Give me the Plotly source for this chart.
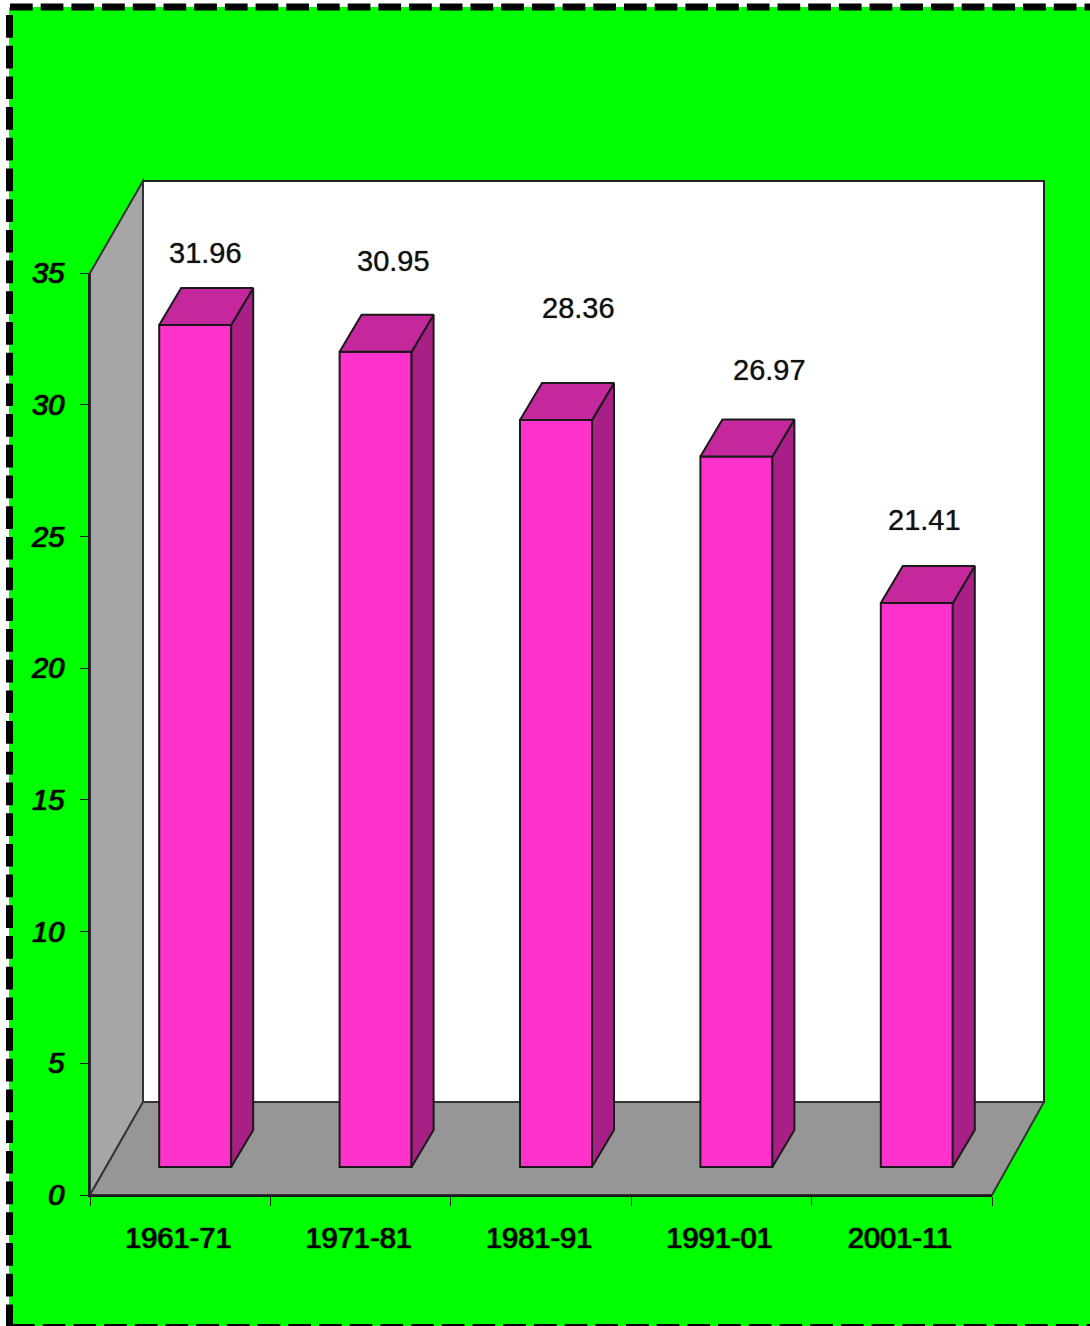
import plotly.graph_objects as go

categories = ["1961-71", "1971-81", "1981-91", "1991-01", "2001-11"]
values = [31.96, 30.95, 28.36, 26.97, 21.41]
y_ticks = [0, 5, 10, 15, 20, 25, 30, 35]
x_boundaries = [-0.5, 0.5, 1.5, 2.5, 3.5, 4.5]
label_dx = [10, 18, 22, 33, 8]
label_dy = [72, 91, 112, 87, 83]

W, H = 1090, 1326
L, R, T, B = 90, 992, 273, 1195
UX = (R - L) / 5
UY = (B - T) / 35
DEPTH_X, DEPTH_Y = 53, 92          # wall / floor depth, px
BAR_FX, BAR_FY = 15 / UX, 28 / UY  # bar front-face shift, data units
BAR_DX, BAR_DY = 22 / UX, 37 / UY  # bar depth, data units
BAR_W = 72 / UX
INK = "#1a1a1a"
px = lambda x: x / W
py = lambda y: 1 - y / H


def poly(pts, color, line_color, width=2):
    return dict(type="path", xref="paper", yref="paper", layer="below",
                path="M" + "L".join(f"{px(x):.5f},{py(y):.5f}" for x, y in pts) + "Z",
                fillcolor=color, line=dict(color=line_color, width=width))


def border(x0, y0, x1, y1):
    return dict(type="line", xref="paper", yref="paper", layer="below",
                x0=px(x0), y0=py(y0), x1=px(x1), y1=py(y1),
                line=dict(color="black", width=7, dash="22.7px,8px"))


shapes = [
    dict(type="rect", xref="paper", yref="paper", layer="below",
         x0=px(9), x1=px(W + 20), y0=py(7), y1=py(H + 5),
         fillcolor="#00FF00", line=dict(width=0)),
    border(10, 7, W + 5, 7),
    border(9.5, 15, 9.5, H + 5),
    border(12, H + 1.5, W + 5, H + 1.5),
    poly([(L + DEPTH_X, T - DEPTH_Y), (R + DEPTH_X - 1, T - DEPTH_Y),
          (R + DEPTH_X - 1, B - DEPTH_Y - 1), (L + DEPTH_X, B - DEPTH_Y - 1)], "white", "#222222"),
    poly([(L, T), (L + DEPTH_X, T - DEPTH_Y), (L + DEPTH_X, B - DEPTH_Y), (L, B)], "#A6A6A6", "#333333"),
    poly([(L, B), (R, B), (R + DEPTH_X - 1, B - DEPTH_Y - 1), (L + DEPTH_X, B - DEPTH_Y - 1)], "#969696", "#333333"),
]

fig = go.Figure()
fig.add_trace(go.Bar(
    x=list(range(5)), y=values, base=BAR_FY, width=BAR_W,
    offset=BAR_FX - BAR_W / 2, marker=dict(color="#FF33CC", line=dict(color=INK, width=2)),
    cliponaxis=False, hoverinfo="skip", showlegend=False))

for i, v in enumerate(values):
    x0 = i + BAR_FX - BAR_W / 2
    x1 = x0 + BAR_W
    y0 = BAR_FY
    y1 = BAR_FY + v
    fig.add_trace(go.Scatter(
        x=[x1, x1 + BAR_DX, x1 + BAR_DX, x1, x1], y=[y0, y0 + BAR_DY, y1 + BAR_DY, y1, y0],
        mode="lines", fill="toself", fillcolor="#A82085", line=dict(color=INK, width=2),
        cliponaxis=False, hoverinfo="skip", showlegend=False))
    fig.add_trace(go.Scatter(
        x=[x0, x1, x1 + BAR_DX, x0 + BAR_DX, x0], y=[y1, y1, y1 + BAR_DY, y1 + BAR_DY, y1],
        mode="lines", fill="toself", fillcolor="#C4289C", line=dict(color=INK, width=2),
        cliponaxis=False, hoverinfo="skip", showlegend=False))

SOFT = "0 0 1px rgba(0,0,0,0.7)"
annotations = [
    dict(x=i + BAR_FX, y=v + BAR_FY, xref="x", yref="y", text=f"{v:.2f}", showarrow=False,
         xshift=label_dx[i], yshift=label_dy[i], xanchor="center", yanchor="middle",
         font=dict(family="Liberation Sans", size=29, color="#111111", shadow=SOFT))
    for i, v in enumerate(values)
]

fig.update_layout(
    width=W, height=H, margin=dict(l=0, r=0, t=0, b=0, autoexpand=False), autosize=False,
    paper_bgcolor="white", plot_bgcolor="rgba(0,0,0,0)", shapes=shapes,
    annotations=annotations, showlegend=False,
    xaxis=dict(domain=[px(L), px(R)], range=[-0.5, 4.5], tickmode="array",
               tickvals=list(range(5)), ticktext=categories, ticks="",
               tickfont=dict(family="Liberation Sans", size=29, color="black",
                             shadow="0.6px 0 1px #000, -0.4px 0 1px #000"),
               ticklabelstandoff=16, ticklabelshift=-2, showgrid=False, zeroline=False,
               showline=True, linecolor=INK, linewidth=2,
               minor=dict(tickmode="array", tickvals=x_boundaries, ticks="outside",
                          ticklen=9, tickwidth=1.4, tickcolor=INK, showgrid=False)),
    yaxis=dict(domain=[py(B), py(T)], range=[0, 35], tickmode="array", tickvals=y_ticks,
               ticktext=[str(t) for t in y_ticks], ticks="outside", ticklen=8, tickwidth=1.4,
               tickcolor=INK, ticklabelstandoff=10,
               tickfont=dict(family="Liberation Sans", size=29, color="black", style="italic",
                             shadow="0.7px 0 1px #000, -0.3px 0 1px #000"),
               showgrid=False, zeroline=False, showline=True, linecolor=INK, linewidth=2),
)

fig.write_html("out.html", config=dict(displayModeBar=False),
               post_script="document.body.style.margin='0';document.body.style.overflow='hidden';")
